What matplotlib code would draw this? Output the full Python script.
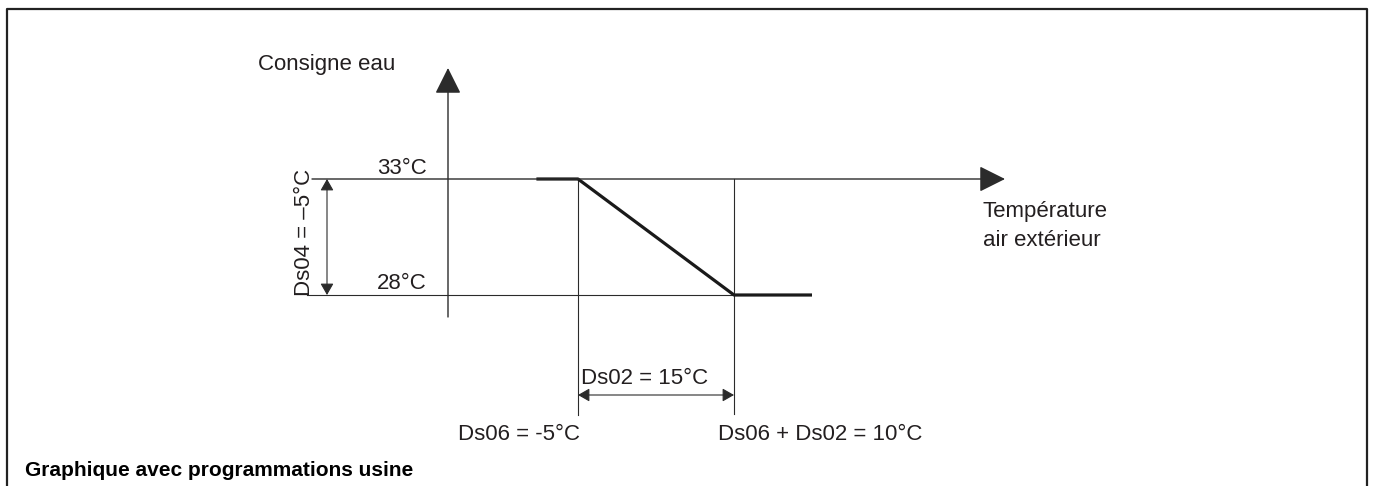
import matplotlib
matplotlib.use("Agg")
import matplotlib.pyplot as plt

plt.rcParams['font.family'] = ['Liberation Sans', 'DejaVu Sans']

# curve: water setpoint vs outside air temperature (factory settings)
curve_temp = [-9, -5, 10, 17.5]
curve_setpoint = [33, 33, 28, 28]

Ds06 = -5        # start of slope (outside temp)
Ds02 = 15        # slope width
Ds04 = -5        # setpoint offset
setpoint_max = 33
setpoint_min = setpoint_max + Ds04
setpoint_labels = ['33°C', '28°C']

text_col = '#231f20'
line_col = '#2b2b2b'

# scale of the drawing (px per degree) used to place labels
X_SCALE = 10.4
Y_SCALE = 23.2


def dx(p):
    return Ds06 + (p - 578) / X_SCALE


def dy(p):
    return setpoint_max - (p - 179) / Y_SCALE


fig = plt.figure(figsize=(13.73, 4.86), dpi=100)
ax = fig.add_axes([0, 0, 1, 1])
ax.set_xlim(dx(0), dx(1373))
ax.set_ylim(dy(486), dy(0))
ax.axis('off')

# frame (top, left, right)
ax.plot([0.0051, 0.0051, 0.9956, 0.9956], [0.0, 0.9815, 0.9815, 0.0],
        transform=ax.transAxes, color='#222222', lw=1.6, clip_on=False)

arrow_big = dict(arrowstyle='-|>,head_length=0.9,head_width=0.45', mutation_scale=18,
                 color=line_col, lw=1.0, shrinkA=0, shrinkB=0)
arrow_dim = dict(arrowstyle='<|-|>,head_length=0.7,head_width=0.4', mutation_scale=10,
                 color=line_col, lw=0.8, shrinkA=0, shrinkB=0)

# vertical axis
y_axis_x = dx(448)
ax.annotate('', xy=(y_axis_x, dy(68)), xytext=(y_axis_x, dy(317)), arrowprops=arrow_big)
# horizontal axis at 33°C
ax.annotate('', xy=(dx(1005), setpoint_max), xytext=(dx(312), setpoint_max), arrowprops=arrow_big)
# 28°C guide line
ax.plot([dx(307), Ds06 + Ds02], [setpoint_min, setpoint_min], color=line_col, lw=0.8)

# vertical guides
ax.plot([Ds06, Ds06], [setpoint_max, dy(415)], color=line_col, lw=0.8)
ax.plot([Ds06 + Ds02, Ds06 + Ds02], [setpoint_max, dy(414)], color=line_col, lw=0.8)

# curve
ax.plot(curve_temp, curve_setpoint, color='#1a1a1a', lw=2.3, solid_capstyle='butt')

# dimension arrows
ax.annotate('', xy=(Ds06 + Ds02, dy(395)), xytext=(Ds06, dy(395)), arrowprops=arrow_dim)
ax.annotate('', xy=(dx(327), setpoint_min), xytext=(dx(327), setpoint_max), arrowprops=arrow_dim)

fs = 16
ax.text(dx(258), dy(70), 'Consigne eau', fontsize=fs, color=text_col, ha='left', va='baseline')
ax.text(dx(402), dy(174), setpoint_labels[0], fontsize=fs, color=text_col, ha='center', va='baseline')
ax.text(dx(402), dy(289), setpoint_labels[1], fontsize=fs, color=text_col, ha='center', va='baseline')
ax.text(dx(983), dy(217), 'Température', fontsize=fs, color=text_col, ha='left', va='baseline')
ax.text(dx(983), dy(246), 'air extérieur', fontsize=fs, color=text_col, ha='left', va='baseline')
ax.text(dx(645), dy(384), 'Ds02 = 15°C', fontsize=fs, color=text_col, ha='center', va='baseline')
ax.text(dx(458), dy(440), 'Ds06 = -5°C', fontsize=fs, color=text_col, ha='left', va='baseline')
ax.text(dx(718), dy(440), 'Ds06 + Ds02 = 10°C', fontsize=fs, color=text_col, ha='left', va='baseline')
ax.text(dx(305), dy(232), 'Ds04 = –5°C', fontsize=fs, color=text_col, ha='center', va='center',
        rotation=90)

ax.text(dx(25), dy(476), 'Graphique avec programmations usine', fontsize=15, fontweight='bold',
        color='black', ha='left', va='baseline')

fig.savefig('out.png', dpi=100)
